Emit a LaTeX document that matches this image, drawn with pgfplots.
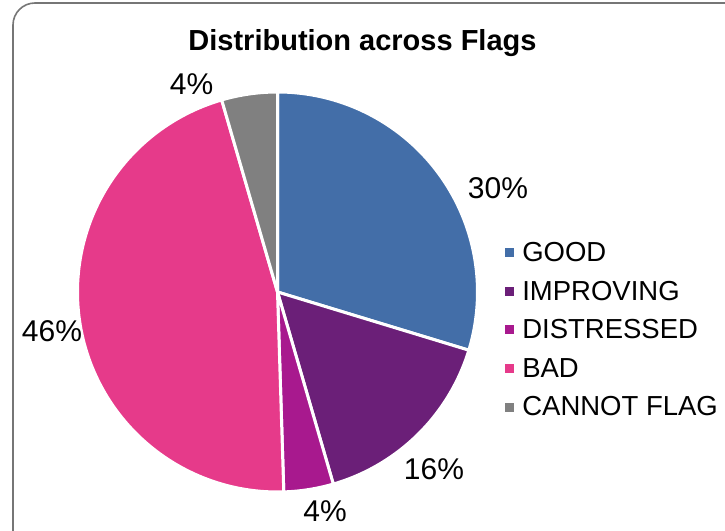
\documentclass[border=0pt]{standalone}
\usepackage{fontspec}
\setmainfont{Liberation Sans}
\usepackage{pgfplots}
\pgfplotsset{compat=1.18}
\definecolor{cGood}{HTML}{436EA8}
\definecolor{cImp}{HTML}{6B1F78}
\definecolor{cDis}{HTML}{A8198E}
\definecolor{cBad}{HTML}{E63A8A}
\definecolor{cCan}{HTML}{808080}
\definecolor{cBorder}{HTML}{767676}
% slice shares (percent): GOOD 29.7, IMPROVING 15.8, DISTRESSED 4.0, BAD 46.0, CANNOT FLAG 4.5
% angles start at 90 deg, clockwise, 3.6 deg per percent
\begin{document}
\begin{tikzpicture}[x=1pt,y=1pt]
\draw[cBorder, line width=1.6pt, rounded corners=22pt] (13,527) rectangle (760,-30);
\node[font=\fontsize{29}{34}\selectfont\bfseries, anchor=base] at (362.5,479) {Distribution across Flags};
\begin{axis}[
  at={(77.5pt,38pt)}, anchor=south west,
  scale only axis, width=400pt, height=400pt,
  xmin=-1, xmax=1, ymin=-1, ymax=1,
  hide axis, clip=false,
  legend image code/.code={\fill[#1, draw=none] (0pt,-4.5pt) rectangle (9pt,4.5pt);},
  legend style={at={(1.069,0.63)}, anchor=north west, draw=none, fill=none,
    font=\fontsize{27.5}{31}\selectfont, inner sep=0pt, row sep=14pt,
    cells={anchor=west}},
  legend cell align=left,
]
\addplot[fill=cGood, draw=white, line width=3pt, domain=90:-16.92, samples=80, variable=\t] ({cos(\t)},{sin(\t)}) -- (0,0) -- cycle;
\addlegendentry{\hspace{6pt}GOOD}
\addplot[fill=cImp, draw=white, line width=3pt, domain=-16.92:-73.8, samples=60, variable=\t] ({cos(\t)},{sin(\t)}) -- (0,0) -- cycle;
\addlegendentry{\hspace{6pt}IMPROVING}
\addplot[fill=cDis, draw=white, line width=3pt, domain=-73.8:-88.2, samples=20, variable=\t] ({cos(\t)},{sin(\t)}) -- (0,0) -- cycle;
\addlegendentry{\hspace{6pt}DISTRESSED}
\addplot[fill=cBad, draw=white, line width=3pt, domain=-88.2:-253.8, samples=120, variable=\t] ({cos(\t)},{sin(\t)}) -- (0,0) -- cycle;
\addlegendentry{\hspace{6pt}BAD}
\addplot[fill=cCan, draw=white, line width=3pt, domain=-253.8:-270, samples=20, variable=\t] ({cos(\t)},{sin(\t)}) -- (0,0) -- cycle;
\addlegendentry{\hspace{6pt}CANNOT FLAG}
\node[font=\fontsize{30}{34}\selectfont] at (axis cs:1.1025,0.52) {30\%};
\node[font=\fontsize{30}{34}\selectfont] at (axis cs:0.7825,-0.885) {16\%};
\node[font=\fontsize{30}{34}\selectfont] at (axis cs:0.2375,-1.095) {4\%};
\node[font=\fontsize{30}{34}\selectfont] at (axis cs:-1.1275,-0.195) {46\%};
\node[font=\fontsize{30}{34}\selectfont] at (axis cs:-0.43,1.04) {4\%};
\end{axis}
\pgfresetboundingbox
\path[use as bounding box] (0,0) rectangle (725,530);
\end{tikzpicture}
\end{document}
